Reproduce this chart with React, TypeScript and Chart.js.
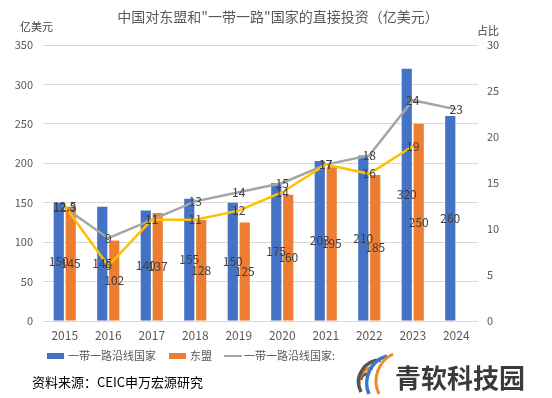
import React, { useEffect, useRef } from "react";
import { Chart, registerables } from "chart.js";

Chart.register(...registerables);

const years = ["2015", "2016", "2017", "2018", "2019", "2020", "2021", "2022", "2023", "2024"];
const beltRoadInvest = [150, 145, 140, 155, 150, 175, 203, 210, 320, 260];
const aseanInvest = [145, 102, 137, 128, 125, 160, 195, 185, 250, null];
const beltRoadShare = [12.3, 9, 11, 13, 14, 15, 17, 18, 24, 23];
const aseanShare = [12.5, 6, 11, 11, 12, 14, 17, 16, 19, null];
const leftTicks = [0, 50, 100, 150, 200, 250, 300, 350];
const rightTicks = [0, 5, 10, 15, 20, 25, 30];

const FONT = "'Noto Sans CJK SC', 'Noto Sans', sans-serif";

const labelPlugin = {
  id: "valueLabels",
  afterDatasetsDraw(chart: any) {
    const ctx = chart.ctx;
    ctx.save();
    ctx.font = `12px ${FONT}`;
    ctx.fillStyle = "#404040";
    ctx.textAlign = "center";
    ctx.textBaseline = "middle";
    chart.data.datasets.forEach((ds: any, i: number) => {
      const meta = chart.getDatasetMeta(i);
      meta.data.forEach((el: any, j: number) => {
        const v = ds.data[j];
        if (v === null || v === undefined) return;
        let y = el.y;
        if (ds.type === "bar") y = (el.y + el.base) / 2;
        ctx.fillText(String(v), el.x, y);
      });
    });
    ctx.restore();
  },
};

export default function App() {
  const ref = useRef<HTMLCanvasElement>(null);
  useEffect(() => {
    if (!ref.current) return;
    const chart = new Chart(ref.current, {
      type: "bar",
      data: {
        labels: years,
        datasets: [
          {
            type: "line",
            label: "东盟占比",
            data: aseanShare,
            borderColor: "#FFC000",
            borderWidth: 2.5,
            pointRadius: 0,
            yAxisID: "y1",
            order: 0,
            spanGaps: false,
          } as any,
          {
            type: "line",
            label: "一带一路沿线国家:",
            data: beltRoadShare,
            borderColor: "#A5A5A5",
            borderWidth: 2.5,
            pointRadius: 0,
            yAxisID: "y1",
            order: 1,
          } as any,
          {
            type: "bar",
            label: "一带一路沿线国家",
            data: beltRoadInvest,
            backgroundColor: "#4472C4",
            yAxisID: "y",
            order: 2,
            categoryPercentage: 0.55,
            barPercentage: 0.85,
          } as any,
          {
            type: "bar",
            label: "东盟",
            data: aseanInvest,
            backgroundColor: "#ED7D31",
            yAxisID: "y",
            order: 2,
            categoryPercentage: 0.55,
            barPercentage: 0.85,
          } as any,
        ],
      },
      options: {
        responsive: false,
        animation: false,
        layout: { padding: { top: 45, bottom: 47, left: 0, right: 0 } },
        plugins: {
          legend: { display: false },
          title: { display: false },
          tooltip: { enabled: false },
        },
        scales: {
          x: {
            grid: { display: false, drawTicks: false },
            border: { display: false },
            ticks: { color: "#595959", font: { size: 12, family: FONT }, padding: 7 },
            afterFit: (s: any) => { s.height = 30; },
          },
          y: {
            position: "left",
            min: 0,
            max: 350,
            afterBuildTicks: (s: any) => { s.ticks = leftTicks.map((v) => ({ value: v })); },
            grid: { color: "#D9D9D9", drawTicks: false, lineWidth: 1 },
            border: { display: false },
            ticks: { color: "#595959", font: { size: 11, family: FONT }, padding: 10 },
            afterFit: (s: any) => { s.width = 43; },
          },
          y1: {
            position: "right",
            min: 0,
            max: 30,
            afterBuildTicks: (s: any) => { s.ticks = rightTicks.map((v) => ({ value: v })); },
            grid: { drawOnChartArea: false, drawTicks: false },
            border: { display: false },
            ticks: { color: "#595959", font: { size: 11, family: FONT }, padding: 9 },
            afterFit: (s: any) => { s.width = 74; },
          },
        },
      },
      plugins: [labelPlugin],
    });
    return () => chart.destroy();
  }, []);

  const txt: React.CSSProperties = { position: "absolute", fontFamily: FONT, color: "#595959", whiteSpace: "nowrap", lineHeight: 1 };

  return (
    <div style={{ position: "absolute", left: 0, top: 0, width: 552, height: 398, background: "#fff", overflow: "hidden" }}>
      <canvas ref={ref} width={552} height={398} style={{ position: "absolute", left: 0, top: 0 }} />
      <div style={{ ...txt, left: 0, width: 552, textAlign: "center", top: 9, fontSize: 14, paddingLeft: 2 }}>
        中国对东盟和"一带一路"国家的直接投资（亿美元）
      </div>
      <div style={{ ...txt, left: 20, top: 21, fontSize: 11, color: "#404040" }}>亿美元</div>
      <div style={{ ...txt, left: 477, top: 25, fontSize: 11, color: "#404040" }}>占比</div>
      <div style={{ ...txt, left: 47, top: 350, fontSize: 11, display: "flex", alignItems: "center" }}>
        <span style={{ display: "inline-block", width: 17, height: 6, background: "#4472C4", marginRight: 4 }} />
        <span>一带一路沿线国家</span>
        <span style={{ display: "inline-block", width: 17, height: 6, background: "#ED7D31", marginLeft: 13, marginRight: 4 }} />
        <span>东盟</span>
        <span style={{ display: "inline-block", width: 18, height: 2, background: "#A5A5A5", marginLeft: 12, marginRight: 2 }} />
        <span>一带一路沿线国家:</span>
      </div>
      <div style={{ ...txt, left: 32, top: 375, fontSize: 13, color: "#000" }}>资料来源：CEIC申万宏源研究</div>
      <svg style={{ position: "absolute", left: 355, top: 350 }} width={42} height={46} viewBox="0 0 42 46">
        <path d="M6 30 A6 6 0 0 1 12 24" stroke="#555" strokeWidth={3} fill="none" />
        <path d="M4 34 A14 14 0 0 1 18 18" stroke="#F08A24" strokeWidth={3.5} fill="none" />
        <path d="M6 42 A22 22 0 0 1 26 10" stroke="#555" strokeWidth={3.5} fill="none" />
        <path d="M14 44 A28 28 0 0 1 32 6" stroke="#3C78C8" strokeWidth={3.5} fill="none" />
        <path d="M24 44 A30 30 0 0 1 38 4" stroke="#F08A24" strokeWidth={3} fill="none" />
      </svg>
      <div style={{ ...txt, left: 395, top: 364, fontSize: 26, fontWeight: 700, color: "#3a3a3a" }}>青软科技园</div>
    </div>
  );
}
